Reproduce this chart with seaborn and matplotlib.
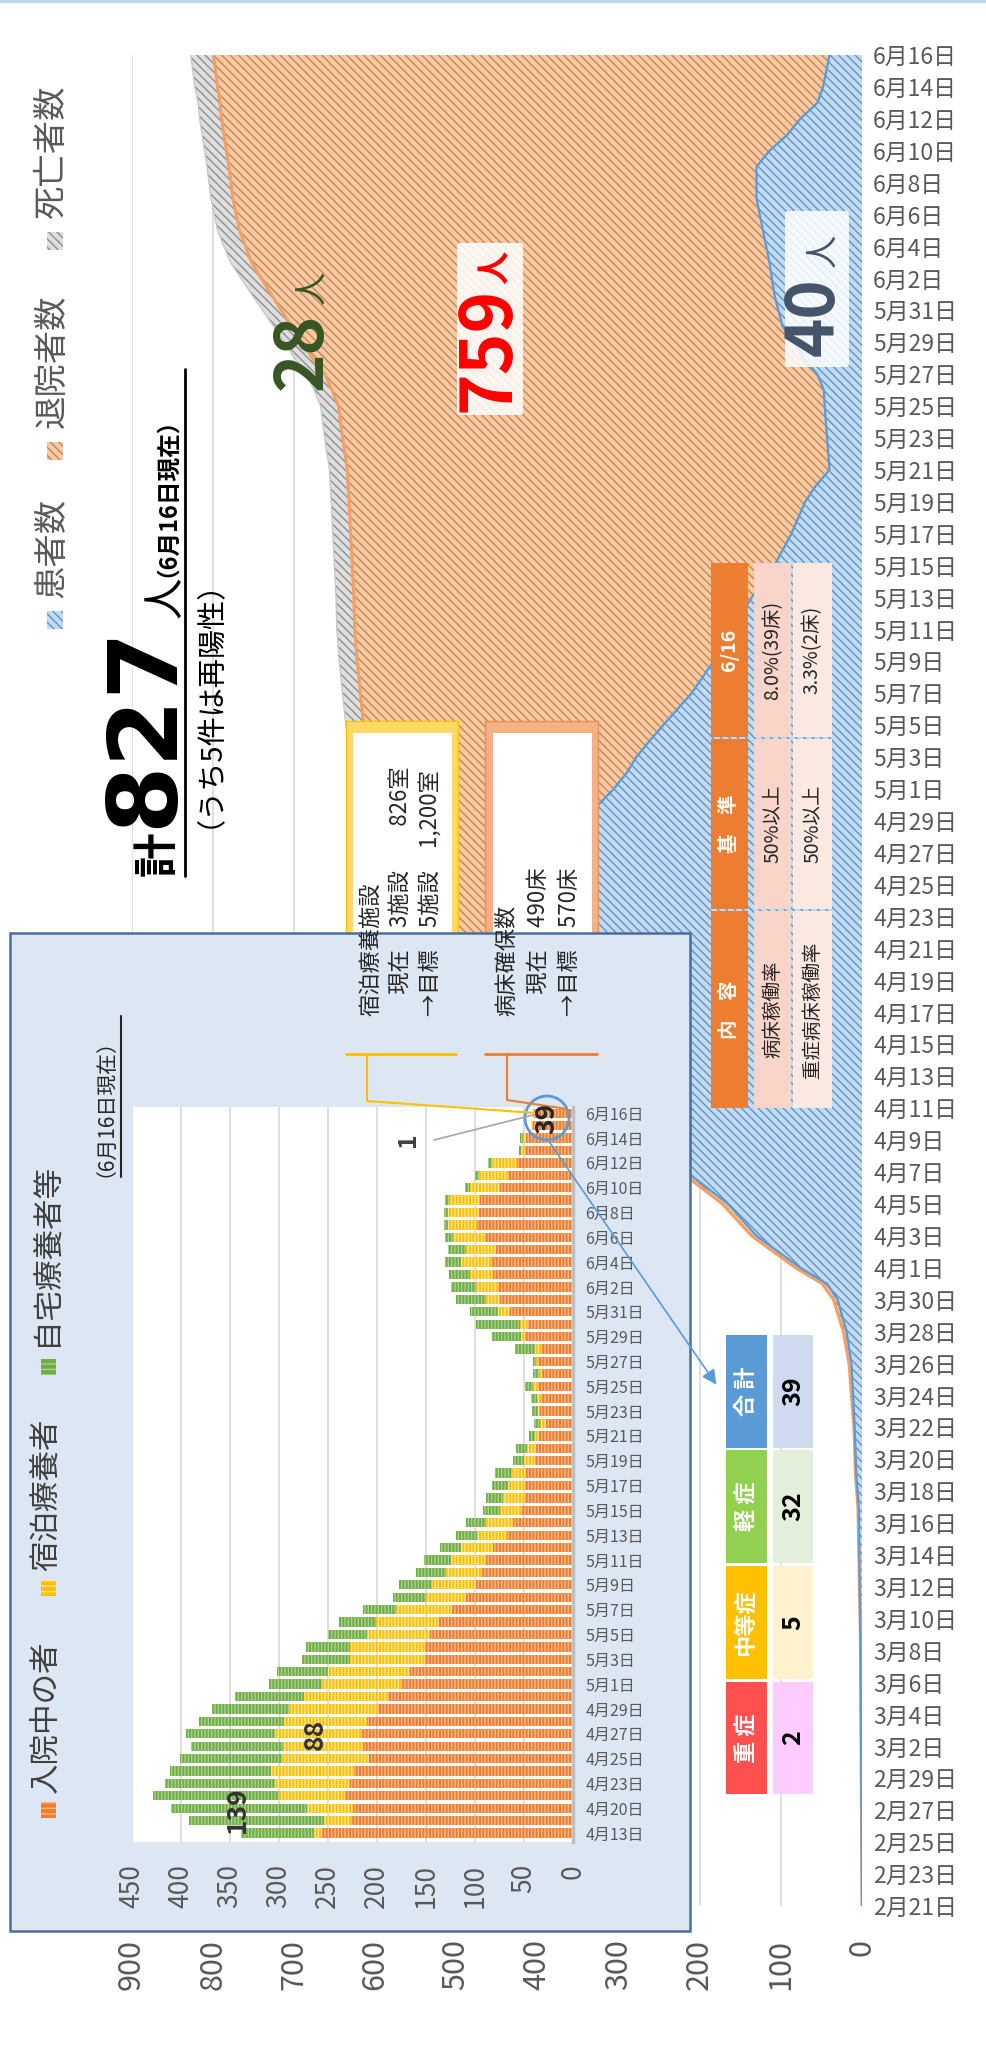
import numpy as np
import pandas as pd
import matplotlib
matplotlib.use("Agg")
import matplotlib.pyplot as plt
import seaborn as sns
from matplotlib.patches import Rectangle, Circle, FancyBboxPatch

sns.set_theme(style="white")
plt.rcParams['font.family'] = ['Noto Sans CJK JP', 'DejaVu Sans']
plt.rcParams['hatch.linewidth'] = 1.0

W, H = 987, 2046

# Données du graphique principal (cumul par date)
dates_main = ['02-21', '03-01', '03-09', '03-17', '03-19', '03-22', '03-24', '03-26', '03-28', '03-30',
              '03-31', '04-01', '04-03', '04-05', '04-07', '04-09', '04-11', '04-13', '04-15', '04-17',
              '04-19', '04-21', '04-23', '04-25', '04-27', '04-29', '04-30', '05-01', '05-02', '05-03',
              '05-04', '05-05', '05-07', '05-09', '05-11', '05-13', '05-15', '05-17', '05-19', '05-20',
              '05-21', '05-23', '05-25', '05-26', '05-27', '05-28', '05-30', '06-01', '06-03', '06-05',
              '06-07', '06-09', '06-10', '06-11', '06-12', '06-13', '06-14', '06-16']
patients = [0, 1, 2, 4, 7, 9, 11, 13, 19, 30,
            43, 76, 130, 165, 216, 265, 313, 330, 350, 375,
            390, 400, 400, 390, 375, 345, 325, 306, 290, 278,
            262, 245, 210, 183, 160, 136, 108, 87, 70, 57,
            40, 43, 46, 47, 55, 72, 98, 108, 114, 122,
            130, 130, 114, 92, 76, 55, 48, 40]
discharged = [0, 0, 0, 1, 1, 1, 2, 3, 4, 5,
              6, 6, 6, 7, 7, 8, 8, 27, 56, 80,
              113, 140, 168, 195, 223, 260, 282, 303, 320, 332,
              348, 369, 408, 439, 465, 490, 520, 543, 562, 576,
              594, 597, 599, 606, 607, 605, 605, 620, 638, 645,
              645, 650, 669, 694, 713, 736, 746, 759]
deaths = [0, 0, 0, 0, 0, 0, 0, 0, 0, 1,
          1, 1, 1, 1, 2, 2, 2, 3, 4, 5,
          7, 10, 12, 15, 17, 19, 20, 21, 21, 22,
          22, 22, 22, 22, 22, 22, 22, 22, 22, 22,
          22, 22, 22, 22, 22, 22, 22, 24, 26, 27,
          27, 27, 27, 27, 27, 27, 28, 28]

# Données de l'encart (入院中 / 宿泊療養 / 自宅療養)
dates_inset = ['4/13', '4/17', '4/20', '4/21', '4/23', '4/24', '4/25', '4/26', '4/27', '4/28',
               '4/29', '4/30', '5/1', '5/2', '5/3', '5/4', '5/5', '5/6', '5/7', '5/8',
               '5/9', '5/10', '5/11', '5/12', '5/13', '5/14', '5/15', '5/16', '5/17', '5/18',
               '5/19', '5/20', '5/21', '5/22', '5/23', '5/24', '5/25', '5/26', '5/27', '5/28',
               '5/29', '5/30', '5/31', '6/1', '6/2', '6/3', '6/4', '6/5', '6/6', '6/7',
               '6/8', '6/9', '6/10', '6/11', '6/12', '6/13', '6/14', '6/15', '6/16']
hospital = [256, 226, 224, 232, 227, 223, 208, 214, 216, 210,
            199, 188, 175, 166, 151, 151, 146, 136, 123, 109,
            99, 94, 88, 81, 67, 61, 53, 49, 49, 48,
            38, 37, 34, 27, 33, 32, 35, 31, 35, 32,
            49, 46, 64, 74, 76, 81, 83, 78, 89, 98,
            96, 95, 74, 66, 57, 49, 48, 40, 39]
hotel = [8, 28, 47, 68, 77, 85, 89, 82, 88, 85,
         90, 86, 81, 84, 76, 76, 64, 65, 57, 41,
         45, 35, 36, 33, 31, 27, 21, 22, 17, 14,
         12, 10, 4, 6, 2, 4, 5, 3, 2, 6,
         4, 8, 12, 14, 23, 24, 31, 31, 33, 29,
         31, 31, 31, 30, 25, 4, 3, 3, 1]
home = [74, 138, 139, 128, 112, 103, 104, 93, 91, 86,
        79, 71, 54, 52, 49, 45, 40, 37, 34, 33,
        33, 31, 28, 21, 21, 21, 18, 17, 16, 17,
        11, 11, 7, 6, 7, 7, 9, 6, 4, 21,
        29, 45, 29, 31, 25, 21, 16, 18, 8, 4,
        4, 4, 5, 4, 4, 2, 3, 0, 0]

# Tableaux
severity_names = ['重 症', '中等症', '軽 症', '合 計']
severity_values = ['2', '5', '32', '39']
table_cols = ['内　容', '基　準', '6/16']
table_rows = [['病床稼働率', '50%以上', '8.0%(39床)'],
              ['重症病床稼働率', '50%以上', '3.3%(2床)']]

fig = plt.figure(figsize=(W / 100, H / 100), dpi=100)


def zone(x0, y0, x1, y1, z):
    return fig.add_axes([x0 / W, 1 - y1 / H, (x1 - x0) / W, (y1 - y0) / H], zorder=z)


def vtexte(a, x, y, s, taille, couleur='#262626', gras=False, **kw):
    kw.setdefault('ha', 'left')
    kw.setdefault('va', 'center')
    return a.text(x, y, s, rotation=90, rotation_mode='anchor', fontsize=taille,
                  color=couleur, fontweight='bold' if gras else 'normal', **kw)


# ---------- Graphique principal (aires empilées) ----------
ax = zone(131.5, 55, 862, 1906, 1)
start = pd.Timestamp('2020-02-21')
jours = np.array([(pd.Timestamp('2020-' + d) - start).days for d in dates_main])
b1 = np.array(patients)
b2 = b1 + np.array(discharged)
b3 = b2 + np.array(deaths)

motif = '\\\\\\\\'
ax.fill_betweenx(jours, 0, b1, facecolor='#c3dbf1', edgecolor='#5f93c9',
                 hatch=motif, linewidth=0, zorder=2)
ax.fill_betweenx(jours, b1, b2, facecolor='#f8caa2', edgecolor='#c3855a',
                 hatch=motif, linewidth=0, zorder=2)
ax.fill_betweenx(jours, b2, b3, facecolor='#dedede', edgecolor='#8f8f8f',
                 hatch=motif, linewidth=0, zorder=2)
ax.plot(b3, jours, color='#c8c8c8', lw=1, zorder=3)
ax.plot(b2, jours, color='#f4a064', lw=2.2, zorder=3)
ax.plot(b1, jours, color='#5b9bd5', lw=1.6, zorder=3)

ax.set_xlim(900, 0)
ax.set_ylim(0, 116)
ax.set_xticks(np.arange(0, 1000, 100))
ax.set_xticklabels([str(v) for v in range(0, 1000, 100)])
ax.tick_params(axis='x', labelrotation=90, labelsize=22, labelcolor='#595959', pad=24, length=0)
ax.yaxis.tick_right()
ticks = np.arange(0, 117, 2)
ax.set_yticks(ticks)
ax.set_yticklabels([f"{(start + pd.Timedelta(days=int(t))).month}月{(start + pd.Timedelta(days=int(t))).day}日"
                    for t in ticks])
ax.tick_params(axis='y', labelsize=16.5, labelcolor='#595959', pad=8, length=0)
ax.grid(axis='x', color='#d9d9d9', lw=1.2)
ax.grid(axis='y', visible=False)
ax.set_axisbelow(True)
for s in ax.spines.values():
    s.set_visible(False)

# ---------- Calque des annotations (sous l'encart) ----------
ov = zone(0, 0, W, H, 2)
ov.set_xlim(0, W)
ov.set_ylim(H, 0)
ov.axis('off')
ov.plot([0, W], [1, 1], color='#bdd7ee', lw=3)

# Légende principale
legend_main = [('患者数', 620, 598, '#c3dbf1', '#5f93c9'),
               ('退院者数', 451, 428, '#f8caa2', '#c3855a'),
               ('死亡者数', 241, 219, '#dedede', '#8f8f8f')]
for nom, yc, y0, fc, hc in legend_main:
    ov.add_patch(Rectangle((47, yc - 9), 16, 18, facecolor=fc, edgecolor=hc,
                           hatch=motif, linewidth=0))
    vtexte(ov, 52, y0, nom, 24, couleur='#595959')

vtexte(ov, 158, 876, '計', 32, gras=True, couleur='black')
vtexte(ov, 146, 828, '827', 70, gras=True, couleur='black', family='DejaVu Sans')
vtexte(ov, 166, 618, '人', 30, couleur='black')
vtexte(ov, 155, 577, '（6月16日現在）', 17, gras=True, couleur='black')
ov.plot([185, 185], [369, 876], color='black', lw=2)
vtexte(ov, 195, 828, '（うち5件は再陽性）', 21, couleur='black')

# Valeurs sur les aires
vtexte(ov, 302, 390, '28', 47, couleur='#375623', gras=True)
vtexte(ov, 313, 304, '人', 24, couleur='#375623')
ov.add_patch(FancyBboxPatch((460, 246), 60, 166, boxstyle='round,pad=3',
                            facecolor='white', edgecolor='none', alpha=0.85))
vtexte(ov, 488, 412, '759', 51, couleur='#ff0000', gras=True)
vtexte(ov, 496, 284, '人', 24, couleur='#ff0000', gras=True)
ov.add_patch(FancyBboxPatch((788, 214), 58, 150, boxstyle='round,pad=3',
                            facecolor='white', edgecolor='none', alpha=0.85))
vtexte(ov, 814, 356, '40', 48, couleur='#44546a', gras=True)
vtexte(ov, 824, 267, '人', 24, couleur='#44546a')

# Encadrés
ov.add_patch(Rectangle((346, 721), 112, 326, facecolor='#ffd966', edgecolor='#ffc000', lw=1))
ov.add_patch(Rectangle((353, 733), 99, 303, facecolor='white', edgecolor='none'))
ov.add_patch(Rectangle((485, 721), 113, 326, facecolor='#f4b183', edgecolor='#f08c5a', lw=1))
ov.add_patch(Rectangle((493, 733), 99, 303, facecolor='white', edgecolor='none'))
vtexte(ov, 371, 1016, '宿泊療養施設', 16)
vtexte(ov, 400, 1016, '　現在　3施設　　826室', 16)
vtexte(ov, 431, 1016, '→目標　5施設　1,200室', 16)
vtexte(ov, 507, 1016, '病床確保数', 16)
vtexte(ov, 538, 1016, '　現在　490床', 16)
vtexte(ov, 570, 1016, '→目標　570床', 16)

# Tableau des taux
col_y = [(911, 1108), (739, 909), (563, 737)]
row_x = [(754, 791), (793, 832)]
row_fc = ['#f8d5c8', '#fbe9e2']
for (ya, yb), titre in zip(col_y, table_cols):
    ov.add_patch(Rectangle((711, ya), 37, yb - ya, facecolor='#ed7d31', edgecolor='none'))
    vtexte(ov, 729.5, (ya + yb) / 2, titre, 14, couleur='white', gras=True, ha='center')
for (xa, xb), fc, ligne in zip(row_x, row_fc, table_rows):
    for (ya, yb), val in zip(col_y, ligne):
        ov.add_patch(Rectangle((xa, ya), xb - xa, yb - ya, facecolor=fc, edgecolor='none'))
        vtexte(ov, (xa + xb) / 2, (ya + yb) / 2, val, 14, ha='center')

# Tableau de gravité
sev_y = [(1682, 1794), (1566, 1679), (1450, 1563), (1335, 1448)]
sev_head = ['#ff5050', '#ffc000', '#92d050', '#5b9bd5']
sev_body = ['#ffccff', '#fff2cc', '#e2efda', '#cfdaee']
for (ya, yb), nom, val, hc, bc in zip(sev_y, severity_names, severity_values, sev_head, sev_body):
    ov.add_patch(Rectangle((726, ya), 41, yb - ya, facecolor=hc, edgecolor='none'))
    ov.add_patch(Rectangle((773, ya), 40, yb - ya, facecolor=bc, edgecolor='none'))
    vtexte(ov, 746.5, (ya + yb) / 2, nom, 16, couleur='white', gras=True, ha='center')
    vtexte(ov, 793, (ya + yb) / 2, val, 18, couleur='black', gras=True, ha='center')

# Fond de l'encart
ov.add_patch(Rectangle((10, 933), 680, 998, facecolor='#dde7f4', edgecolor='#4a6f9c', lw=1.8))

# ---------- Encart : barres empilées ----------
ax_in = zone(131.7, 1107, 572.7, 1842, 3)
df_in = pd.DataFrame({'date': dates_inset, 'hospital': hospital, 'hotel': hotel, 'home': home})
df_in['h2'] = df_in['hospital'] + df_in['hotel']
df_in['h3'] = df_in['h2'] + df_in['home']
ordre = dates_inset[::-1]
for col, fc, hc in [('h3', '#70ad47', '#a9d18e'), ('h2', '#ffc000', '#ffe699'),
                    ('hospital', '#ed7d31', '#f6b88a')]:
    sns.barplot(data=df_in, y='date', x=col, order=ordre, orient='h', color=fc,
                saturation=1, width=0.75, errorbar=None, edgecolor=hc, linewidth=0,
                hatch='|||||', ax=ax_in)
ax_in.set_xlabel('')
ax_in.set_ylabel('')
ax_in.set_facecolor('white')
ax_in.set_xlim(450, 0)
ax_in.set_ylim(58.72, -0.5)
ax_in.set_xticks(np.arange(0, 500, 50))
ax_in.set_xticklabels([str(v) for v in range(0, 500, 50)])
ax_in.tick_params(axis='x', labelrotation=90, labelsize=19, labelcolor='#595959', pad=16, length=0)
ax_in.yaxis.tick_right()
pos = [j for j in range(len(ordre)) if (len(ordre) - 1 - j) % 2 == 0]
ax_in.set_yticks(pos)
ax_in.set_yticklabels([ordre[j].split('/')[0] + '月' + ordre[j].split('/')[1] + '日' for j in pos])
ax_in.tick_params(axis='y', labelsize=11.5, labelcolor='#595959', pad=9, length=0)
ax_in.grid(axis='x', color='#d9d9d9', lw=1.2)
ax_in.set_axisbelow(True)
for nom, s in ax_in.spines.items():
    s.set_visible(nom == 'right')
ax_in.spines['right'].set_color('#bfbfbf')
ax_in.spines['right'].set_linewidth(2.5)

# ---------- Calque supérieur ----------
top = zone(0, 0, W, H, 4)
top.set_xlim(0, W)
top.set_ylim(H, 0)
top.axis('off')

legend_in = [('入院中の者', 1810, 1793, '#ed7d31', '#f6b88a'),
             ('宿泊療養者', 1588, 1571, '#ffc000', '#ffe699'),
             ('自宅療養者等', 1367, 1346, '#70ad47', '#a9d18e')]
for nom, yc, y0, fc, hc in legend_in:
    top.add_patch(Rectangle((41, yc - 8), 15, 16, facecolor=fc, edgecolor=hc,
                            hatch='---', linewidth=0))
    vtexte(top, 46, y0, nom, 22, couleur='#404040')
vtexte(top, 94, 1177, '（6月16日現在）', 15, couleur='#262626')
top.plot([121, 121], [1016, 1177], color='#262626', lw=1.5)

vtexte(top, 237, 1810, '139', 19, couleur='#333333', gras=True, ha='center')
vtexte(top, 315, 1734, '88', 19, couleur='#333333', gras=True, ha='center')
vtexte(top, 408, 1140, '1', 18, couleur='#404040', gras=True, ha='center')
top.plot([434, 533], [1140, 1115], color='#a6a6a6', lw=1.2)

top.plot([346, 456], [1054, 1054], color='#ffc000', lw=2)
top.plot([367, 367, 535], [1054, 1101, 1113], color='#ffc000', lw=1.5)
top.plot([485, 597], [1054, 1054], color='#ed7d31', lw=2)
top.plot([507, 507, 567], [1054, 1100, 1109], color='#ed7d31', lw=1.5)

top.add_patch(Circle((547, 1118), 22, fill=False, edgecolor='#5b9bd5', lw=2))
vtexte(top, 547, 1118, '39', 19, couleur='#262626', gras=True, ha='center')
top.annotate('', xy=(718, 1387), xytext=(548, 1140),
             arrowprops=dict(arrowstyle='-|>', color='#5b9bd5', lw=1.2, mutation_scale=22))

fig.savefig('out.png', dpi=100)
